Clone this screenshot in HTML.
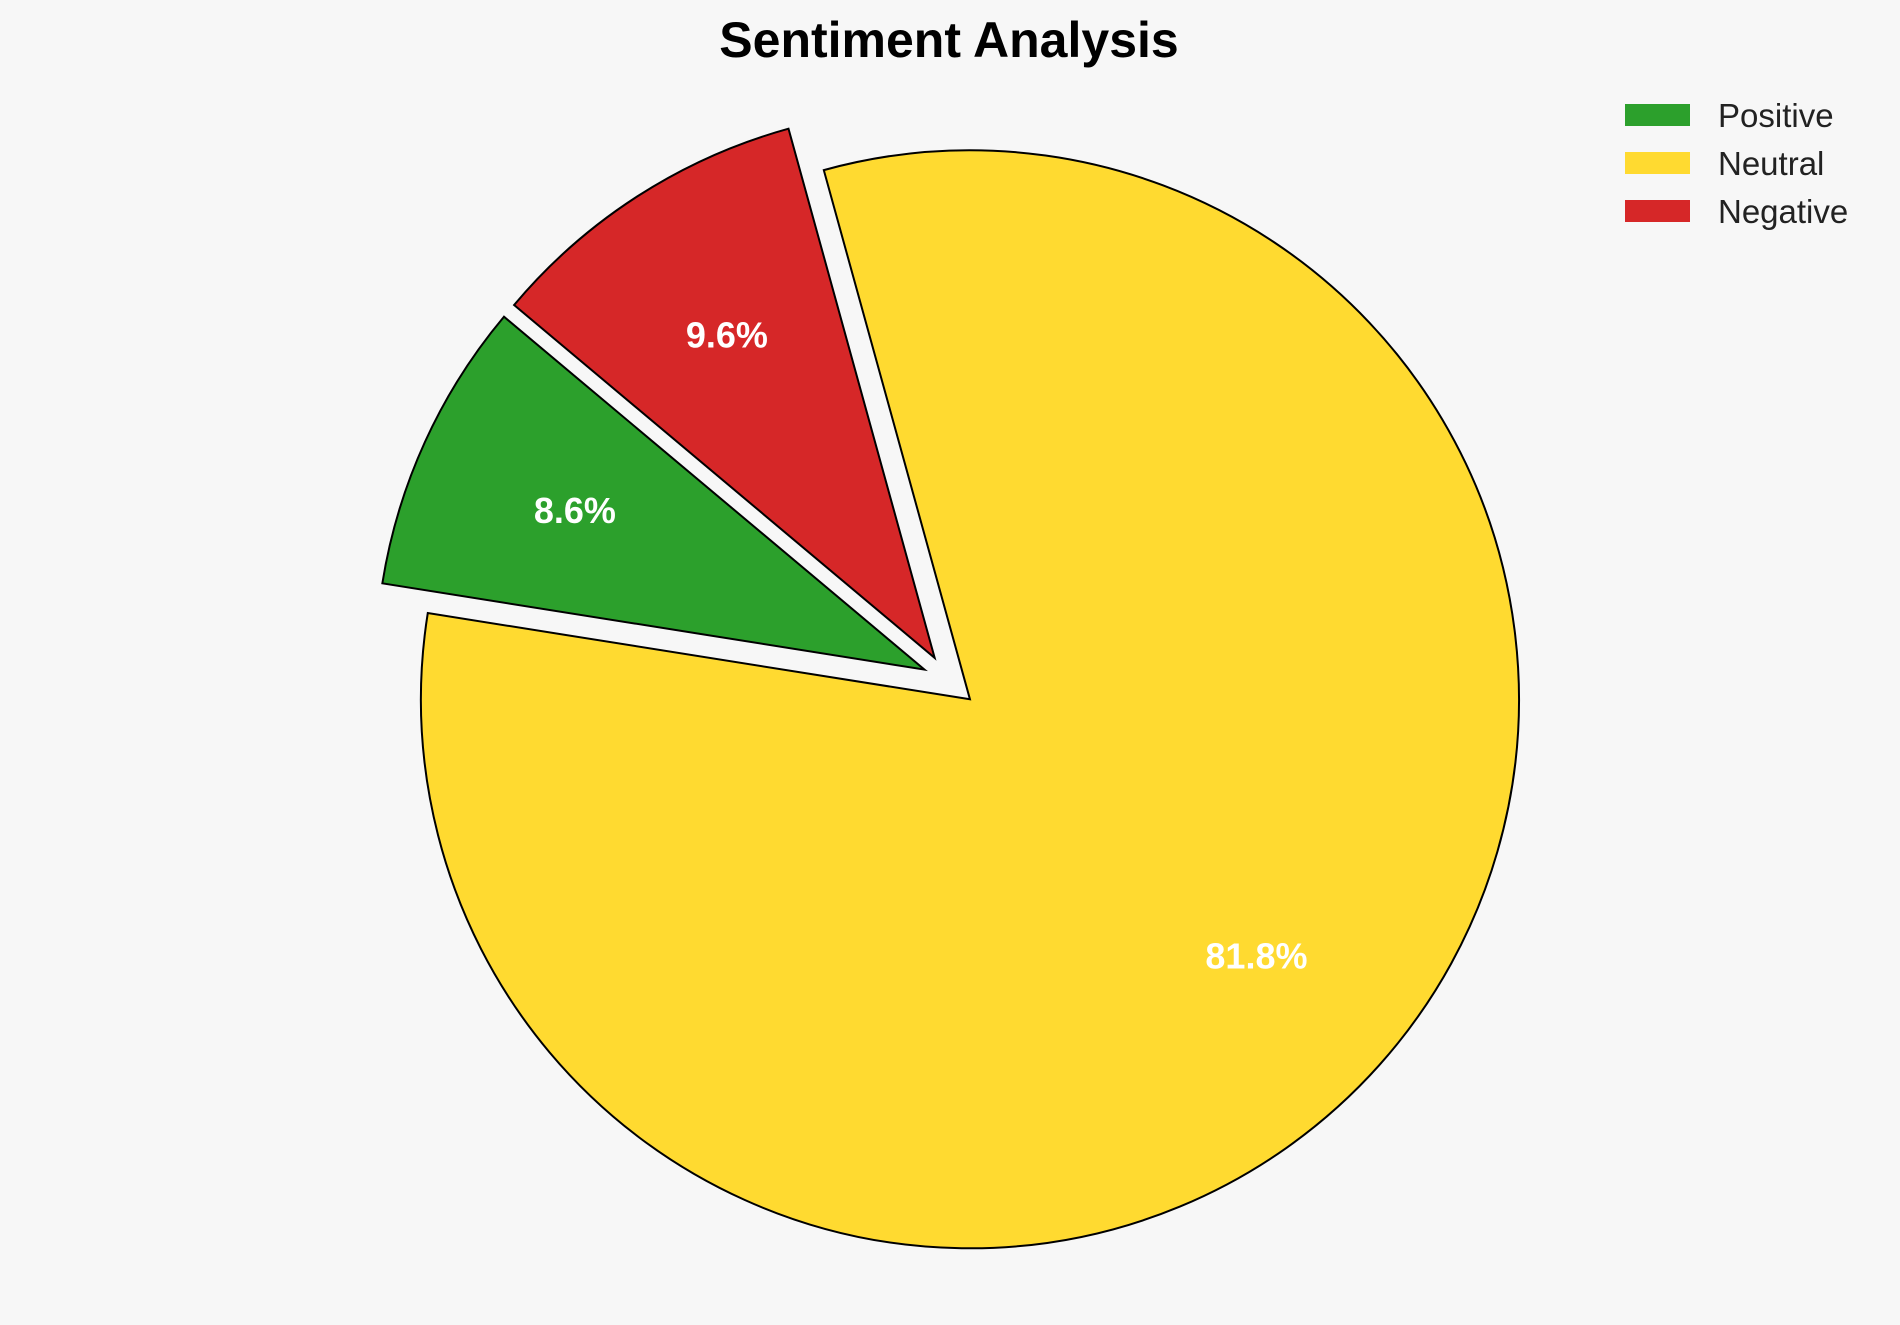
<!DOCTYPE html>
<html><head><meta charset="utf-8"><style>
html,body{margin:0;padding:0;background:#f7f7f7;}
svg{display:block;font-family:"Liberation Sans",Arial,sans-serif;}
</style></head><body>
<svg id="chart" width="1900" height="1325" viewBox="0 0 1900 1325">
<rect width="1900" height="1325" fill="#f7f7f7"/>
<text x="949" y="57" text-anchor="middle" font-size="50" font-weight="bold" fill="#000">Sentiment Analysis</text>
<g id="slices"></g>
<g id="legend"></g>
</svg>
<script>
const categories = ["Positive", "Neutral", "Negative"];
const values = [8.6, 81.8, 9.6];
const explodes = [0.05, 0.05, 0.05];
const colors = ["#2ca02c", "#ffda30", "#d62728"];
const startAngle = 140;

const NS = "http://www.w3.org/2000/svg";
const cx = 949.5, cy = 681, R = 549, pctDist = 0.7;
const total = values.reduce((a, b) => a + b, 0);
const g = document.getElementById("slices");
let a0 = startAngle;
const labels = [];
values.forEach((v, i) => {
  const sweep = v / total * 360;
  const a1 = a0 + sweep;
  const mid = (a0 + a1) / 2 * Math.PI / 180;
  const ox = cx + explodes[i] * R * Math.cos(mid);
  const oy = cy - explodes[i] * R * Math.sin(mid);
  const r0 = a0 * Math.PI / 180, r1 = a1 * Math.PI / 180;
  const x0 = ox + R * Math.cos(r0), y0 = oy - R * Math.sin(r0);
  const x1 = ox + R * Math.cos(r1), y1 = oy - R * Math.sin(r1);
  const large = sweep > 180 ? 1 : 0;
  const p = document.createElementNS(NS, "path");
  p.setAttribute("d", `M${ox},${oy} L${x0},${y0} A${R},${R} 0 ${large} 0 ${x1},${y1} Z`);
  p.setAttribute("fill", colors[i]);
  p.setAttribute("stroke", "#000");
  p.setAttribute("stroke-width", "2");
  p.setAttribute("stroke-linejoin", "miter");
  
  
  g.appendChild(p);
  labels.push([ox + pctDist * R * Math.cos(mid), oy - pctDist * R * Math.sin(mid), v.toFixed(1) + "%", i]);
  a0 = a1;
});
labels.forEach(([x, y, s, i]) => {
  const t = document.createElementNS(NS, "text");
  t.setAttribute("x", x);
  t.setAttribute("y", y + 13);
  t.setAttribute("text-anchor", "middle");
  t.setAttribute("font-size", "36");
  t.setAttribute("font-weight", "bold");
  t.setAttribute("fill", "#fff");
  t.textContent = s;
  
  
  g.appendChild(t);
});
const lg = document.getElementById("legend");
categories.forEach((c, i) => {
  const y = 115 + i * 48;
  const r = document.createElementNS(NS, "rect");
  r.setAttribute("x", 1625); r.setAttribute("y", y - 11);
  r.setAttribute("width", 65); r.setAttribute("height", 22);
  r.setAttribute("fill", colors[i]);
  
  
  lg.appendChild(r);
  const t = document.createElementNS(NS, "text");
  t.setAttribute("x", 1718); t.setAttribute("y", y + 12);
  t.setAttribute("font-size", "33"); t.setAttribute("fill", "#222");
  t.textContent = c;
  
  
  lg.appendChild(t);
});
</script>
</body></html>
